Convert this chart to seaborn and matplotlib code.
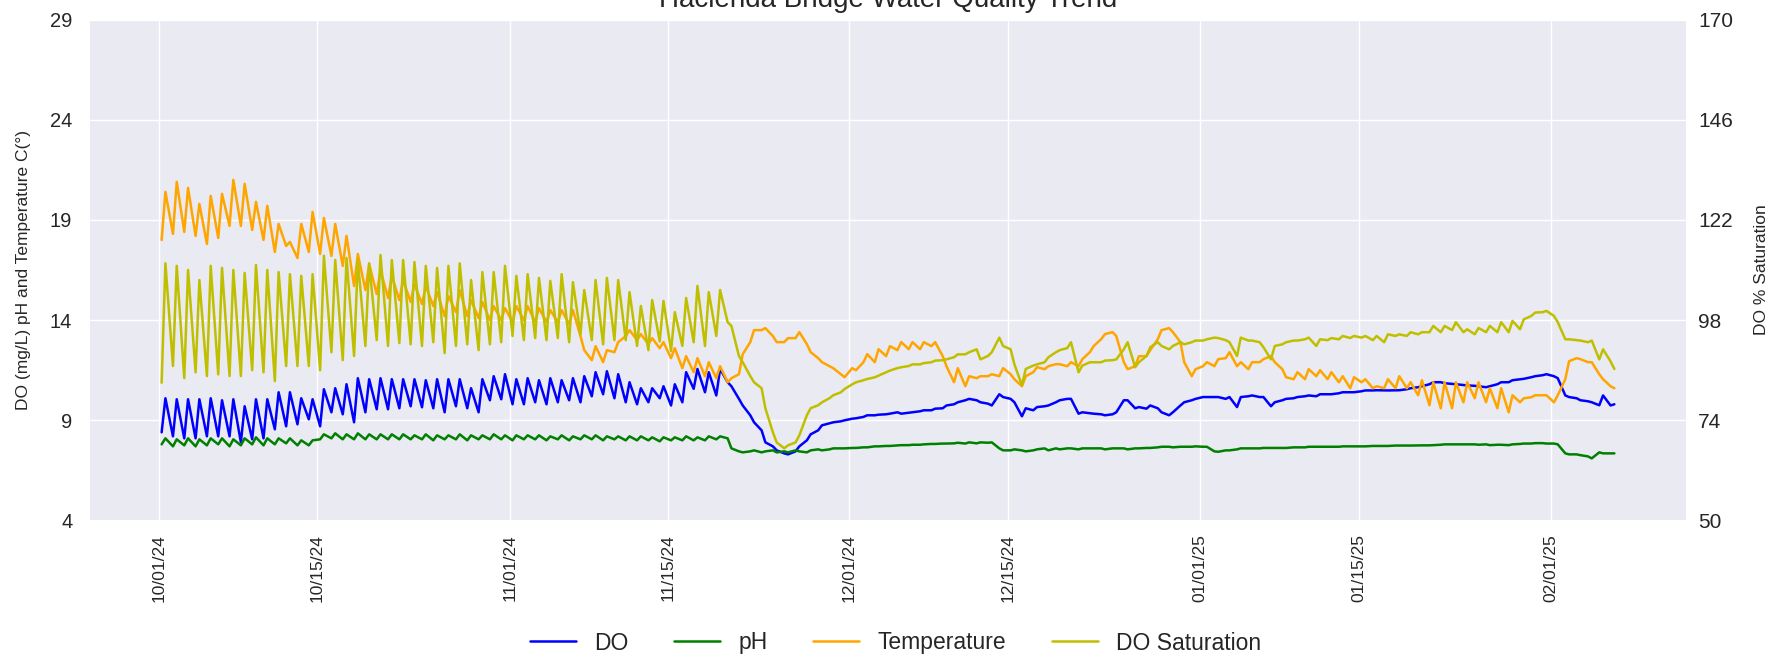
import matplotlib
matplotlib.use("Agg")
import matplotlib.dates as mdates
import matplotlib.pyplot as plt
import numpy as np
import pandas as pd
import seaborn as sb

sb.set_theme(style="darkgrid")
plt.rcParams['font.family'] = ['Liberation Sans', 'DejaVu Sans']

# two readings a day (06:00 low / 14:00 high), 10/01/24 .. 02/06/25
days = pd.date_range("2024-10-01", "2025-02-06", freq="D")
sample_hours = [6, 14]

do_mg = [
    8.4, 10.1, 8.2, 10.05, 8.1, 10.05, 8.1, 10.05, 8.2, 10.1, 8.2, 10.0, 8.2, 10.05,
    7.9, 9.7, 8.05, 10.05, 8.1, 10.05, 8.55, 10.4, 8.7, 10.4, 8.8, 10.1, 9.05, 10.05,
    8.7, 10.55, 9.4, 10.6, 9.3, 10.8, 8.9, 11.1, 9.4, 11.05, 9.55, 11.1, 9.55, 11.05,
    9.6, 11.05, 9.7, 11.05, 9.65, 11.0, 9.6, 11.05, 9.4, 11.05, 9.7, 11.05, 9.6, 10.6,
    9.4, 11.05, 10.0, 11.2, 10.05, 11.3, 9.8, 11.05, 9.8, 11.1, 9.9, 11.0, 9.8, 11.1,
    9.9, 11.0, 10.0, 11.1, 9.9, 11.2, 10.2, 11.4, 10.3, 11.45, 10.1, 11.3, 9.9, 10.9,
    9.8, 10.6, 9.9, 10.6, 10.1, 10.7, 9.74, 10.8, 9.9, 11.4, 10.57, 11.56, 10.4, 11.4,
    10.24, 11.56, 10.9, 10.7, 10.07, 9.74, 9.25, 8.9, 8.5, 7.9, 7.7, 7.5, 7.35, 7.3,
    7.45, 7.7, 8.0, 8.3, 8.5, 8.75, 8.85, 8.9, 8.95, 9.0, 9.08, 9.1, 9.17, 9.25,
    9.25, 9.28, 9.3, 9.33, 9.4, 9.33, 9.38, 9.4, 9.45, 9.5, 9.5, 9.58, 9.6, 9.74,
    9.8, 9.9, 10.0, 10.07, 10.0, 9.9, 9.83, 9.74, 10.3, 10.16, 10.07, 9.9, 9.2, 9.6,
    9.5, 9.66, 9.7, 9.74, 9.9, 10.0, 10.07, 10.07, 9.33, 9.4, 9.35, 9.33, 9.3, 9.25,
    9.3, 9.4, 10.0, 10.0, 9.6, 9.66, 9.58, 9.74, 9.6, 9.4, 9.25, 9.4, 9.74, 9.9,
    10.0, 10.07, 10.16, 10.16, 10.16, 10.16, 10.07, 10.16, 9.66, 10.16, 10.2, 10.24, 10.16, 10.16,
    9.7, 9.9, 10.0, 10.07, 10.1, 10.16, 10.2, 10.24, 10.2, 10.3, 10.3, 10.3, 10.35, 10.4,
    10.4, 10.4, 10.45, 10.49, 10.49, 10.5, 10.49, 10.49, 10.5, 10.5, 10.55, 10.6, 10.65, 10.7,
    10.8, 10.9, 10.9, 10.85, 10.82, 10.8, 10.76, 10.74, 10.72, 10.7, 10.65, 10.7, 10.8, 10.9,
    10.9, 11.0, 11.05, 11.07, 11.15, 11.2, 11.25, 11.3, 11.2, 11.1, 10.24, 10.16, 10.1, 10.0,
    9.95, 9.9, 9.75, 10.24, 9.74, 9.8,
]

ph = [
    7.8, 8.1, 7.7, 8.05, 7.75, 8.1, 7.7, 8.05, 7.75, 8.1, 7.8, 8.1, 7.7, 8.05,
    7.75, 8.1, 7.8, 8.15, 7.75, 8.1, 7.8, 8.1, 7.85, 8.1, 7.75, 8.0, 7.75, 8.0,
    8.05, 8.3, 8.1, 8.35, 8.05, 8.3, 8.05, 8.35, 8.05, 8.3, 8.05, 8.3, 8.05, 8.3,
    8.05, 8.3, 8.05, 8.25, 8.05, 8.3, 8.0, 8.25, 8.05, 8.25, 8.05, 8.3, 8.0, 8.25,
    8.05, 8.25, 8.05, 8.3, 8.05, 8.25, 8.0, 8.25, 8.05, 8.25, 8.05, 8.25, 8.0, 8.2,
    8.05, 8.25, 8.0, 8.2, 8.05, 8.25, 8.05, 8.25, 8.0, 8.2, 8.05, 8.2, 8.0, 8.2,
    8.0, 8.2, 8.0, 8.15, 7.95, 8.15, 8.0, 8.15, 8.0, 8.2, 8.0, 8.15, 8.0, 8.2,
    8.05, 8.2, 8.1, 7.6, 7.45, 7.4, 7.45, 7.5, 7.4, 7.45, 7.5, 7.4, 7.45, 7.4,
    7.5, 7.45, 7.4, 7.5, 7.55, 7.5, 7.55, 7.6, 7.6, 7.6, 7.62, 7.62, 7.65, 7.65,
    7.7, 7.7, 7.72, 7.72, 7.75, 7.76, 7.76, 7.78, 7.78, 7.8, 7.82, 7.82, 7.84, 7.84,
    7.85, 7.88, 7.84, 7.9, 7.85, 7.9, 7.88, 7.9, 7.6, 7.5, 7.5, 7.55, 7.5, 7.45,
    7.5, 7.55, 7.6, 7.5, 7.6, 7.55, 7.6, 7.6, 7.55, 7.6, 7.6, 7.6, 7.6, 7.55,
    7.6, 7.6, 7.6, 7.55, 7.6, 7.6, 7.62, 7.62, 7.65, 7.68, 7.68, 7.65, 7.68, 7.68,
    7.68, 7.7, 7.68, 7.68, 7.45, 7.43, 7.5, 7.5, 7.55, 7.6, 7.6, 7.6, 7.6, 7.62,
    7.62, 7.62, 7.62, 7.62, 7.65, 7.65, 7.65, 7.68, 7.68, 7.68, 7.68, 7.68, 7.68, 7.7,
    7.7, 7.7, 7.7, 7.7, 7.72, 7.72, 7.72, 7.72, 7.74, 7.74, 7.74, 7.74, 7.75, 7.75,
    7.75, 7.76, 7.78, 7.8, 7.8, 7.8, 7.8, 7.8, 7.8, 7.78, 7.8, 7.76, 7.78, 7.78,
    7.76, 7.8, 7.82, 7.84, 7.84, 7.86, 7.86, 7.84, 7.84, 7.8, 7.35, 7.3, 7.3, 7.26,
    7.2, 7.1, 7.4, 7.35, 7.35, 7.35,
]

temp_c = [
    18.0, 20.4, 18.3, 20.9, 18.4, 20.6, 18.2, 19.8, 17.8, 20.2, 18.1, 20.3, 18.7, 21.0,
    18.7, 20.8, 18.5, 19.9, 18.0, 19.7, 17.4, 18.8, 17.7, 17.9, 17.1, 18.8, 17.4, 19.4,
    17.3, 19.1, 17.2, 18.8, 16.7, 18.2, 15.7, 17.3, 15.5, 16.8, 15.3, 16.5, 15.1, 16.2,
    15.0, 16.0, 14.9, 15.8, 14.8, 15.7, 14.7, 15.4, 14.2, 15.2, 14.4, 15.5, 14.2, 15.0,
    14.1, 14.9, 14.0, 14.7, 14.0, 14.6, 13.9, 14.7, 14.0, 14.7, 13.9, 14.6, 13.9, 14.5,
    13.9, 14.5, 13.8, 14.5, 13.2, 12.5, 12.0, 12.7, 11.9, 12.5, 12.4, 12.9, 13.2, 13.5,
    13.0, 13.3, 12.8, 13.1, 12.6, 12.9, 12.1, 12.6, 11.6, 12.2, 11.4, 12.1, 11.2, 11.9,
    11.1, 11.7, 10.9, 11.1, 11.3, 12.3, 12.9, 13.5, 13.5, 13.6, 13.2, 12.9, 12.9, 13.1,
    13.1, 13.4, 12.8, 12.4, 12.1, 11.9, 11.7, 11.6, 11.3, 11.15, 11.6, 11.5, 11.9, 12.3,
    11.9, 12.55, 12.2, 12.7, 12.5, 12.9, 12.55, 12.9, 12.55, 12.9, 12.7, 12.9, 12.2, 11.7,
    10.9, 11.6, 10.7, 11.2, 11.1, 11.2, 11.2, 11.3, 11.2, 11.6, 11.3, 11.05, 10.7, 11.2,
    11.4, 11.65, 11.55, 11.7, 11.8, 11.8, 11.7, 11.9, 11.7, 12.05, 12.4, 12.7, 13.05, 13.3,
    13.4, 13.2, 11.9, 11.55, 11.7, 12.2, 12.2, 12.5, 13.05, 13.5, 13.6, 13.4, 12.9, 11.9,
    11.2, 11.55, 11.7, 11.9, 11.7, 12.05, 12.1, 12.4, 11.7, 11.9, 11.55, 11.9, 11.9, 12.05,
    12.2, 11.9, 11.55, 11.15, 11.05, 11.4, 11.05, 11.55, 11.2, 11.5, 11.05, 11.4, 10.9, 11.2,
    10.6, 11.15, 10.9, 11.05, 10.6, 10.7, 10.6, 11.05, 10.6, 11.2, 10.6, 10.9, 10.25, 11.0,
    9.75, 10.9, 9.6, 10.9, 9.6, 10.9, 9.9, 10.9, 10.1, 10.9, 9.9, 10.6, 9.6, 10.6,
    9.4, 10.25, 9.9, 10.1, 10.15, 10.25, 10.25, 10.25, 9.9, 10.25, 11.05, 11.95, 12.1, 12.05,
    11.9, 11.9, 11.3, 11.05, 10.7, 10.6,
]

do_sat = [
    83.0, 111.6, 87.0, 111.0, 84.1, 110.0, 85.5, 107.6, 84.6, 111.0, 85.0, 110.5, 84.6, 110.0,
    84.6, 109.3, 86.0, 111.2, 85.5, 110.0, 83.4, 109.5, 87.0, 109.0, 87.0, 108.6, 87.0, 109.0,
    86.0, 113.4, 90.3, 112.4, 88.4, 112.9, 89.4, 112.4, 91.8, 111.6, 93.2, 113.6, 91.8, 112.4,
    92.5, 112.4, 92.2, 111.9, 91.8, 111.0, 92.7, 110.5, 90.1, 111.0, 91.8, 111.6, 92.2, 107.6,
    90.8, 109.5, 92.2, 109.5, 92.7, 111.0, 94.2, 108.6, 93.2, 109.0, 93.7, 108.1, 93.2, 107.4,
    93.7, 109.0, 92.7, 107.1, 94.6, 105.2, 93.2, 107.6, 92.2, 108.1, 93.2, 107.6, 93.2, 104.7,
    91.8, 101.4, 90.8, 102.8, 92.9, 102.6, 90.6, 99.9, 91.8, 103.3, 92.7, 106.2, 91.8, 104.7,
    94.2, 105.2, 97.5, 96.6, 89.4, 87.9, 84.6, 83.1, 81.7, 76.9, 71.1, 68.7, 67.3, 68.0,
    68.7, 70.4, 75.2, 76.9, 77.6, 78.3, 79.3, 80.0, 80.7, 81.5, 82.6, 83.1, 83.6, 83.9,
    84.3, 84.7, 85.5, 85.9, 86.5, 86.7, 87.0, 87.4, 87.4, 87.7, 87.9, 88.3, 88.4, 88.6,
    89.1, 89.8, 89.8, 90.3, 91.0, 88.6, 89.4, 90.3, 93.8, 91.8, 91.0, 87.4, 82.4, 86.3,
    87.1, 87.4, 87.9, 89.1, 90.3, 90.8, 91.3, 92.7, 85.5, 87.1, 87.9, 87.9, 87.9, 88.3,
    88.4, 88.6, 91.0, 92.7, 86.7, 87.9, 89.4, 91.5, 92.7, 91.8, 91.0, 91.8, 92.7, 92.2,
    92.7, 93.1, 93.1, 93.4, 93.8, 93.7, 93.2, 92.7, 89.4, 93.8, 93.1, 93.1, 92.7, 91.5,
    88.6, 91.8, 92.2, 92.7, 93.1, 93.1, 93.4, 93.8, 91.8, 93.4, 93.2, 93.7, 93.4, 94.2,
    93.7, 94.2, 93.8, 94.2, 93.2, 94.2, 92.7, 94.6, 94.2, 94.6, 94.2, 95.1, 94.6, 95.1,
    95.1, 96.6, 95.1, 96.6, 95.6, 97.5, 95.1, 95.8, 94.6, 96.1, 95.1, 96.6, 95.1, 97.5,
    95.1, 97.8, 95.8, 98.2, 99.0, 99.8, 99.9, 100.2, 99.0, 97.5, 93.4, 93.4, 93.2, 93.1,
    92.7, 93.1, 88.6, 91.0, 88.1, 86.3,
]

times = [d + pd.Timedelta(hours=h) for d in days for h in sample_hours]
df = pd.DataFrame({"time": times, "DO": do_mg, "pH": ph,
                   "Temperature": temp_c, "DO Saturation": do_sat})

fig, ax = plt.subplots(figsize=(17.91, 6.6), dpi=100)
fig.subplots_adjust(left=89 / 1791, right=1687 / 1791, top=1 - 19.5 / 660, bottom=1 - 520.5 / 660)

sb.lineplot(data=df, x="time", y="DO", ax=ax, color="blue", label="DO", lw=1.8)
sb.lineplot(data=df, x="time", y="pH", ax=ax, color="green", label="pH", lw=1.8)
sb.lineplot(data=df, x="time", y="Temperature", ax=ax, color="orange", label="Temperature", lw=1.8)

ax2 = ax.twinx()
sb.lineplot(data=df, x="time", y="DO Saturation", ax=ax2, color="#bfbf00", label="DO Saturation", lw=1.8)

ax.set_ylim(4, 29)
ax.set_yticks(np.arange(4, 30, 5))
ax2.set_ylim(50, 170)
ax2.set_yticks(np.linspace(50, 170, 6))
ax2.grid(False)

ax.xaxis.set_major_locator(mdates.DayLocator(bymonthday=[1, 15]))
ax.xaxis.set_major_formatter(mdates.DateFormatter('%m/%d/%y'))
ax.tick_params(axis='x', labelrotation=90, labelsize=12.5, length=0, pad=10)
ax.tick_params(axis='y', labelsize=14.5, length=0, pad=12)
ax2.tick_params(axis='y', labelsize=15, length=0, pad=8)

ax.set_xlabel("")
ax.set_ylabel("DO (mg/L) pH and Temperature C(°)", fontsize=12.5, labelpad=14)
ax2.set_ylabel("DO % Saturation", fontsize=12.5, labelpad=15)
ax.set_title("Hacienda Bridge Water Quality Trend", fontsize=20, pad=9)

h1, l1 = ax.get_legend_handles_labels()
h2, l2 = ax2.get_legend_handles_labels()
ax.get_legend().remove()
ax2.get_legend().remove()
fig.legend(h1 + h2, l1 + l2, loc='center', bbox_to_anchor=(0.5, 1 - 643 / 660),
           ncol=4, frameon=False, fontsize=16.5)

fig.savefig("out.png", dpi=100)
